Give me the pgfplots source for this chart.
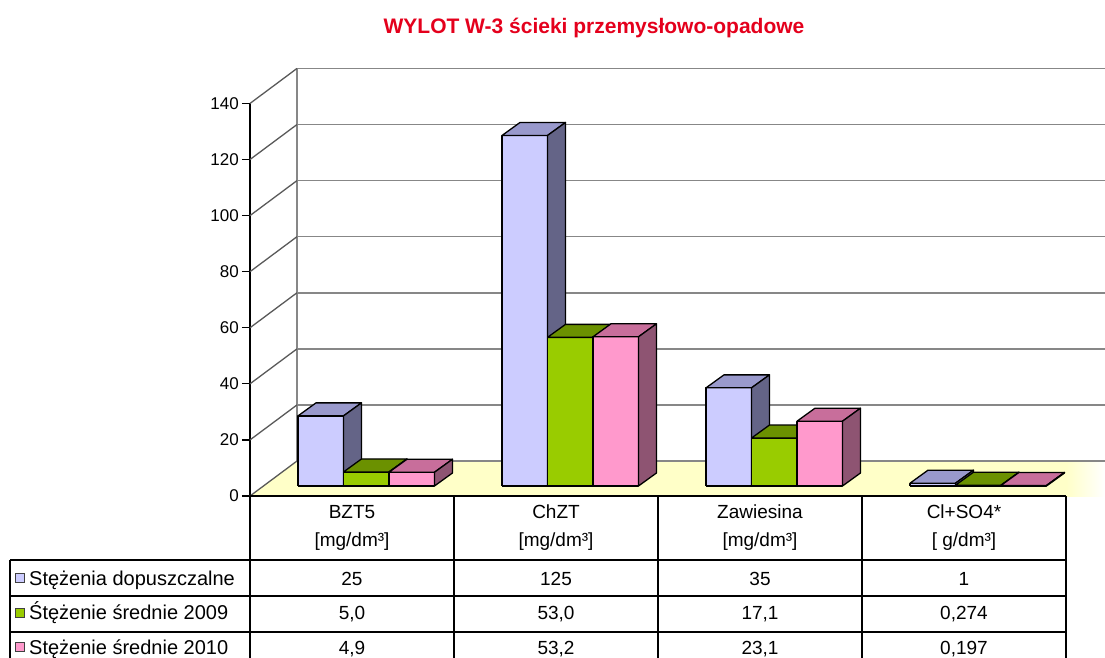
\documentclass[border=0pt]{standalone}
\usepackage{pgfplots}
\pgfplotsset{compat=1.18}
\usepackage{fontspec}
\setmainfont{Liberation Sans}
\definecolor{bluefront}{RGB}{204,204,255}
\definecolor{bluetop}{RGB}{153,153,204}
\definecolor{blueside}{RGB}{100,100,135}
\definecolor{greenfront}{RGB}{153,204,0}
\definecolor{greentop}{RGB}{107,145,0}
\definecolor{greenside}{RGB}{77,102,0}
\definecolor{pinkfront}{RGB}{255,153,204}
\definecolor{pinktop}{RGB}{200,110,155}
\definecolor{pinkside}{RGB}{142,84,114}
\definecolor{floor}{RGB}{255,255,200}
\definecolor{gridc}{RGB}{135,135,135}
\definecolor{titlered}{RGB}{228,0,28}
% one 3D bar: #1 left x, #2 value, #3 front, #4 top, #5 side
\newcommand{\tdbar}[5]{%
  \pgfmathsetmacro\xa{#1}%
  \pgfmathsetmacro\xb{#1+0.2230}%
  \pgfmathsetmacro\xc{#1+0.3112}%
  \pgfmathsetmacro\xd{#1+0.0882}%
  \pgfmathsetmacro\yb{3.57+#2}%
  \pgfmathsetmacro\yc{3.57+#2+4.636}%
  \edef\tmp{%
    \noexpand\addplot[forget plot,fill=#3,draw=black,line width=1.3pt,line join=round] coordinates {(\xa,3.57) (\xb,3.57) (\xb,\yb) (\xa,\yb) (\xa,3.57)};%
    \noexpand\addplot[forget plot,fill=#4,draw=black,line width=1.3pt,line join=round] coordinates {(\xa,\yb) (\xb,\yb) (\xc,\yc) (\xd,\yc) (\xa,\yb)};%
    \noexpand\addplot[forget plot,fill=#5,draw=black,line width=1.3pt,line join=round] coordinates {(\xb,3.57) (\xc,8.206) (\xc,\yc) (\xb,\yb) (\xb,3.57)};%
  }\tmp}
% one category group: #1 index, #2 #3 #4 values
\newcommand{\tdgroup}[4]{%
  \pgfmathsetmacro\gx{0.2353+#1}\tdbar{\gx}{#2}{bluefront}{bluetop}{blueside}%
  \pgfmathsetmacro\gx{0.4583+#1}\tdbar{\gx}{#3}{greenfront}{greentop}{greenside}%
  \pgfmathsetmacro\gx{0.6813+#1}\tdbar{\gx}{#4}{pinkfront}{pinktop}{pinkside}%
}
\begin{document}
\begin{tikzpicture}
\begin{axis}[
  x=204pt, y=2.804pt,
  xmin=0, xmax=4.1912, ymin=0, ymax=140,
  clip=false,
  axis x line=none,
  axis y line*=left,
  axis line style={black, line width=1.5pt},
  ytick={0,20,...,140},
  tick align=outside,
  major tick length=8pt,
  ytick style={black, line width=1.2pt},
  scaled y ticks=false,
  /pgf/number format/assume math mode=true,
  yticklabel style={font=\fontsize{17}{20}\selectfont, inner sep=3pt},
]
% floor
\fill[floor] (axis cs:0,0) -- (axis cs:0.2304,12.48) -- (axis cs:4.02,12.48) -- (axis cs:4.02,0) -- cycle;
\shade[left color=floor, right color=white] (axis cs:4.0,0) rectangle (axis cs:4.1912,12.48);
% back wall
\draw[gridc, line width=1.5pt] (axis cs:0.2304,12.48) -- (axis cs:0.2304,152.48);
\draw[gridc, line width=1.5pt] (axis cs:0.2304,12.48) -- (axis cs:4.1912,12.48);
\draw[gridc, line width=1.5pt] (axis cs:0.2304,32.48) -- (axis cs:4.1912,32.48);
\draw[gridc, line width=1.5pt] (axis cs:0.2304,52.48) -- (axis cs:4.1912,52.48);
\draw[gridc, line width=1.5pt] (axis cs:0.2304,72.48) -- (axis cs:4.1912,72.48);
\draw[gridc, line width=1.5pt] (axis cs:0.2304,92.48) -- (axis cs:4.1912,92.48);
\draw[gridc, line width=1.5pt] (axis cs:0.2304,112.48) -- (axis cs:4.1912,112.48);
\draw[gridc, line width=1.5pt] (axis cs:0.2304,132.48) -- (axis cs:4.1912,132.48);
\draw[gridc, line width=1.5pt] (axis cs:0.2304,152.48) -- (axis cs:4.1912,152.48);
\draw[black!65, line width=1.3pt] (axis cs:0,0) -- (axis cs:0.2304,12.48);
\draw[black!65, line width=1.3pt] (axis cs:0,20) -- (axis cs:0.2304,32.48);
\draw[black!65, line width=1.3pt] (axis cs:0,40) -- (axis cs:0.2304,52.48);
\draw[black!65, line width=1.3pt] (axis cs:0,60) -- (axis cs:0.2304,72.48);
\draw[black!65, line width=1.3pt] (axis cs:0,80) -- (axis cs:0.2304,92.48);
\draw[black!65, line width=1.3pt] (axis cs:0,100) -- (axis cs:0.2304,112.48);
\draw[black!65, line width=1.3pt] (axis cs:0,120) -- (axis cs:0.2304,132.48);
\draw[black!65, line width=1.3pt] (axis cs:0,140) -- (axis cs:0.2304,152.48);
% bars
\tdgroup{0}{25}{5.0}{4.9}
\tdgroup{1}{125}{53.0}{53.2}
\tdgroup{2}{35}{17.1}{23.1}
\tdgroup{3}{1}{0.274}{0.197}
% title
\node[anchor=base, text=titlered, font=\fontsize{21}{24}\selectfont\bfseries] at (axis cs:1.6863,165.0) {WYLOT W-3 ścieki przemysłowo-opadowe};
% table lines
\draw[black, line width=1.5pt] (axis cs:0,0) -- (axis cs:4,0);
\draw[black, line width=1.5pt] (axis cs:-1.1765,-22.82) -- (axis cs:4,-22.82);
\draw[black, line width=1.5pt] (axis cs:-1.1765,-35.66) -- (axis cs:4,-35.66);
\draw[black, line width=1.5pt] (axis cs:-1.1765,-48.50) -- (axis cs:4,-48.50);
\draw[black, line width=1.5pt] (axis cs:-1.1765,-22.82) -- (axis cs:-1.1765,-62);
\draw[black, line width=1.5pt] (axis cs:0,0) -- (axis cs:0,-62);
\draw[black, line width=1.5pt] (axis cs:1,0) -- (axis cs:1,-62);
\draw[black, line width=1.5pt] (axis cs:2,0) -- (axis cs:2,-62);
\draw[black, line width=1.5pt] (axis cs:3,0) -- (axis cs:3,-62);
\draw[black, line width=1.5pt] (axis cs:4,0) -- (axis cs:4,-62);
% header text
\begin{scope}[every node/.style={anchor=base, font=\fontsize{19}{22}\selectfont}]
\node at (axis cs:0.5,-7.85) {BZT5};
\node at (axis cs:0.5,-18.08) {[mg/dm³]};
\node at (axis cs:1.5,-7.85) {ChZT};
\node at (axis cs:1.5,-18.08) {[mg/dm³]};
\node at (axis cs:2.5,-7.85) {Zawiesina};
\node at (axis cs:2.5,-18.08) {[mg/dm³]};
\node at (axis cs:3.5,-7.85) {Cl+SO4*};
\node at (axis cs:3.5,-18.08) {[ g/dm³]};
% values
\node at (axis cs:0.5,-31.74) {25};
\node at (axis cs:1.5,-31.74) {125};
\node at (axis cs:2.5,-31.74) {35};
\node at (axis cs:3.5,-31.74) {1};
\node at (axis cs:0.5,-43.97) {5,0};
\node at (axis cs:1.5,-43.97) {53,0};
\node at (axis cs:2.5,-43.97) {17,1};
\node at (axis cs:3.5,-43.97) {0,274};
\node at (axis cs:0.5,-56.35) {4,9};
\node at (axis cs:1.5,-56.35) {53,2};
\node at (axis cs:2.5,-56.35) {23,1};
\node at (axis cs:3.5,-56.35) {0,197};
\end{scope}
% legend rows
\begin{scope}[every node/.style={anchor=base west, inner xsep=0pt, font=\fontsize{20}{23}\selectfont}]
\node at (axis cs:-1.0833,-31.74) {Stężenia dopuszczalne};
\node at (axis cs:-1.0833,-43.97) {Śtężenie średnie 2009};
\node at (axis cs:-1.0833,-56.35) {Stężenie średnie 2010};
\end{scope}
\node[draw=black!75, line width=0.9pt, fill=bluefront, minimum size=9pt, inner sep=0pt] at (axis cs:-1.1299,-29.24) {};
\node[draw=black!75, line width=0.9pt, fill=greenfront, minimum size=9pt, inner sep=0pt] at (axis cs:-1.1299,-41.55) {};
\node[draw=black!75, line width=0.9pt, fill=pinkfront, minimum size=9pt, inner sep=0pt] at (axis cs:-1.1299,-53.85) {};
\coordinate (bbTL) at (axis cs:-1.2255,176.89);
\coordinate (bbBR) at (axis cs:4.1912,-57.42);
\end{axis}
\pgfresetboundingbox
\useasboundingbox (bbTL) rectangle (bbBR);
\end{tikzpicture}
\end{document}
